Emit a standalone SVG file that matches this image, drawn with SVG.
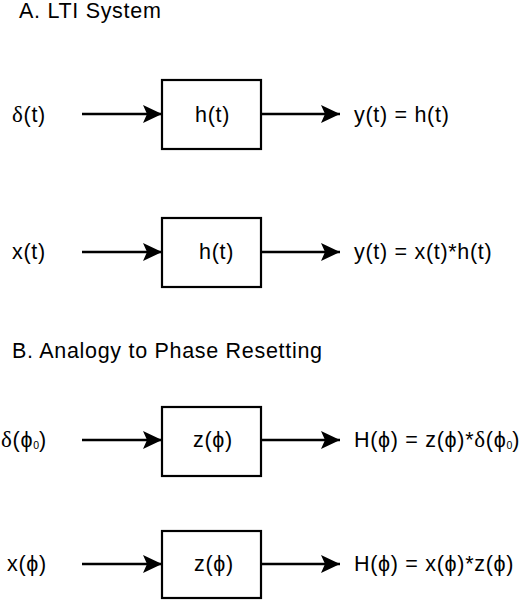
<svg xmlns="http://www.w3.org/2000/svg" width="519" height="601" viewBox="0 0 519 601">
<style>
text{font-family:"Liberation Sans",Arial,sans-serif;font-size:21.5px;letter-spacing:0.7px;fill:#000}
.box{fill:#fff;stroke:#000;stroke-width:2.2}
.wire{stroke:#000;stroke-width:2.4;fill:none}
.sub{font-size:10.5px;letter-spacing:0}
.gr{font-family:"Liberation Serif","Times New Roman",serif;font-size:23px}
</style>
<defs>
<marker id="ah" markerUnits="userSpaceOnUse" markerWidth="20" markerHeight="20" viewBox="0 0 20 20" refX="19" refY="10" orient="auto">
<path d="M0,1 L19,10 L0,19 L4,10 Z" fill="#000"/>
</marker>
</defs>
<rect width="519" height="601" fill="#fff"/>
<text x="19" y="18">A. LTI System</text>
<text x="12" y="358">B. Analogy to Phase Resetting</text>
<g id="connectors">
<line class="wire" x1="82" y1="114" x2="162" y2="114" marker-end="url(#ah)"/>
<line class="wire" x1="261" y1="114" x2="340" y2="114" marker-end="url(#ah)"/>
<line class="wire" x1="82" y1="252" x2="162" y2="252" marker-end="url(#ah)"/>
<line class="wire" x1="261" y1="252" x2="340" y2="252" marker-end="url(#ah)"/>
<line class="wire" x1="82" y1="440" x2="162" y2="440" marker-end="url(#ah)"/>
<line class="wire" x1="261" y1="440" x2="340" y2="440" marker-end="url(#ah)"/>
<line class="wire" x1="82" y1="564" x2="162" y2="564" marker-end="url(#ah)"/>
<line class="wire" x1="261" y1="564" x2="340" y2="564" marker-end="url(#ah)"/>
</g>
<g id="in1"><text x="12" y="122"><tspan class="gr">δ</tspan>(t)</text></g>
<g id="sys1"><rect class="box" x="162" y="80" width="99" height="69"/><text x="195" y="122">h(t)</text></g>
<g id="out1"><text x="354" y="122">y(t) = h(t)</text></g>
<g id="in2"><text x="12" y="259">x(t)</text></g>
<g id="sys2"><rect class="box" x="162" y="218" width="99" height="69"/><text x="199" y="259">h(t)</text></g>
<g id="out2"><text x="354" y="259">y(t) = x(t)*h(t)</text></g>
<g id="in3"><text x="1" y="447"><tspan class="gr">δ</tspan>(ϕ<tspan class="sub" dy="2">0</tspan><tspan dy="-2">)</tspan></text></g>
<g id="sys3"><rect class="box" x="162" y="407" width="99" height="69"/><text x="193" y="447">z(ϕ)</text></g>
<g id="out3"><text x="354" y="447">H(ϕ) = z(ϕ)*<tspan class="gr">δ</tspan>(ϕ<tspan class="sub" dy="2">0</tspan><tspan dy="-2">)</tspan></text></g>
<g id="in4"><text x="7" y="571">x(ϕ)</text></g>
<g id="sys4"><rect class="box" x="162" y="531" width="99" height="67"/><text x="194" y="571">z(ϕ)</text></g>
<g id="out4"><text x="354" y="571">H(ϕ) = x(ϕ)*z(ϕ)</text></g>
</svg>
